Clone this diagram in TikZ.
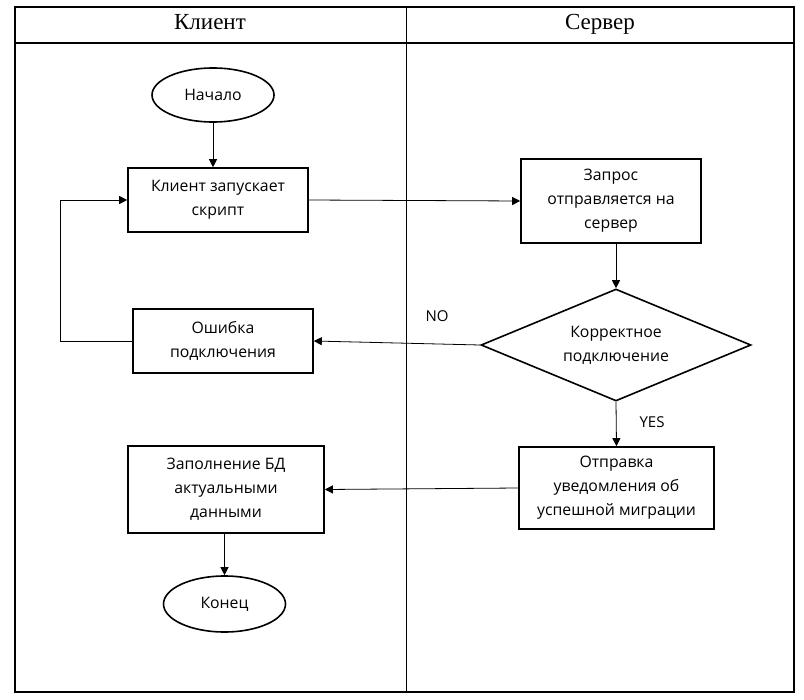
\documentclass[tikz,border=0pt]{standalone}
\usepackage{fontspec}
\setmainfont{Open Sans}
\newfontfamily\headfont{Liberation Serif}
\usetikzlibrary{arrows.meta,shapes.geometric}
\tikzset{
  box/.style={draw, line width=1.6bp, rectangle, align=center, inner sep=0pt,
    font=\fontsize{15.8bp}{24bp}\selectfont},
  term/.style={draw, line width=1.6bp, ellipse, inner sep=0pt,
    font=\fontsize{15.8bp}{24bp}\selectfont},
  decision/.style={draw, line width=1.6bp, diamond, inner sep=0pt, align=center,
    font=\fontsize{15.8bp}{24bp}\selectfont},
  conn/.style={line width=0.8bp, -{Triangle[length=8bp,width=8bp]}},
  plain/.style={line width=0.8bp},
  head/.style={font=\headfont\fontsize{23bp}{26bp}\selectfont, anchor=base},
  lab/.style={font=\fontsize{15bp}{18bp}\selectfont},
  frame/.style={line width=1.2bp}
}
\begin{document}
\begin{tikzpicture}[x=1bp,y=-1bp]
\useasboundingbox (0,0) rectangle (804,700);
% frame
\draw[frame] (15,7) rectangle (794,692);
\draw[frame] (15,43) -- (794,43);
\draw[plain] (406,7) -- (406,692);
\node[head] (hc) at (210,30) {Клиент};
\node[head] (hs) at (600,30) {Сервер};
% nodes
\node[term, minimum width=122bp, minimum height=54bp] (start) at (213,95) {Начало};
\node[box, minimum width=180bp, minimum height=64bp] (b1) at (218,200) {Клиент запускает\\скрипт};
\node[box, minimum width=180bp, minimum height=84bp] (b2) at (611,201) {Запрос\\отправляется на\\сервер};
\node[decision, minimum width=270bp, minimum height=112bp, aspect=2.41] (dia) at (616,345) {Корректное\\подключение};
\node[box, minimum width=180bp, minimum height=64bp] (err) at (223,341) {Ошибка\\подключения};
\node[box, minimum width=195bp, minimum height=82bp] (b4) at (616.5,488) {Отправка\\уведомления об\\успешной миграции};
\node[box, minimum width=196bp, minimum height=87bp] (b5) at (226,489.5) {Заполнение БД\\актуальными\\данными};
\node[term, minimum width=122bp, minimum height=56bp] (end) at (224.5,604) {Конец};
\node[lab] (no) at (437,316) {NO};
\node[lab] (yes) at (652,422) {YES};
\coordinate (loopx) at (60,0);
% connectors
\draw[conn] (start.south) -- (start.south |- b1.north);
\draw[conn] (b1.east) -- (b2.west);
\draw[conn] (dia.north |- b2.south) -- (dia.north);
\draw[conn] (dia.west) -- (err.east);
\draw[conn] (err.west) -- (err.west -| loopx) -- (loopx |- b1.west) -- (b1.west);
\draw[conn] (dia.south) -- (b4.north);
\draw[conn] (b4.west) -- (b5.east);
\draw[conn] (end.north |- b5.south) -- (end.north);
\end{tikzpicture}
\end{document}
